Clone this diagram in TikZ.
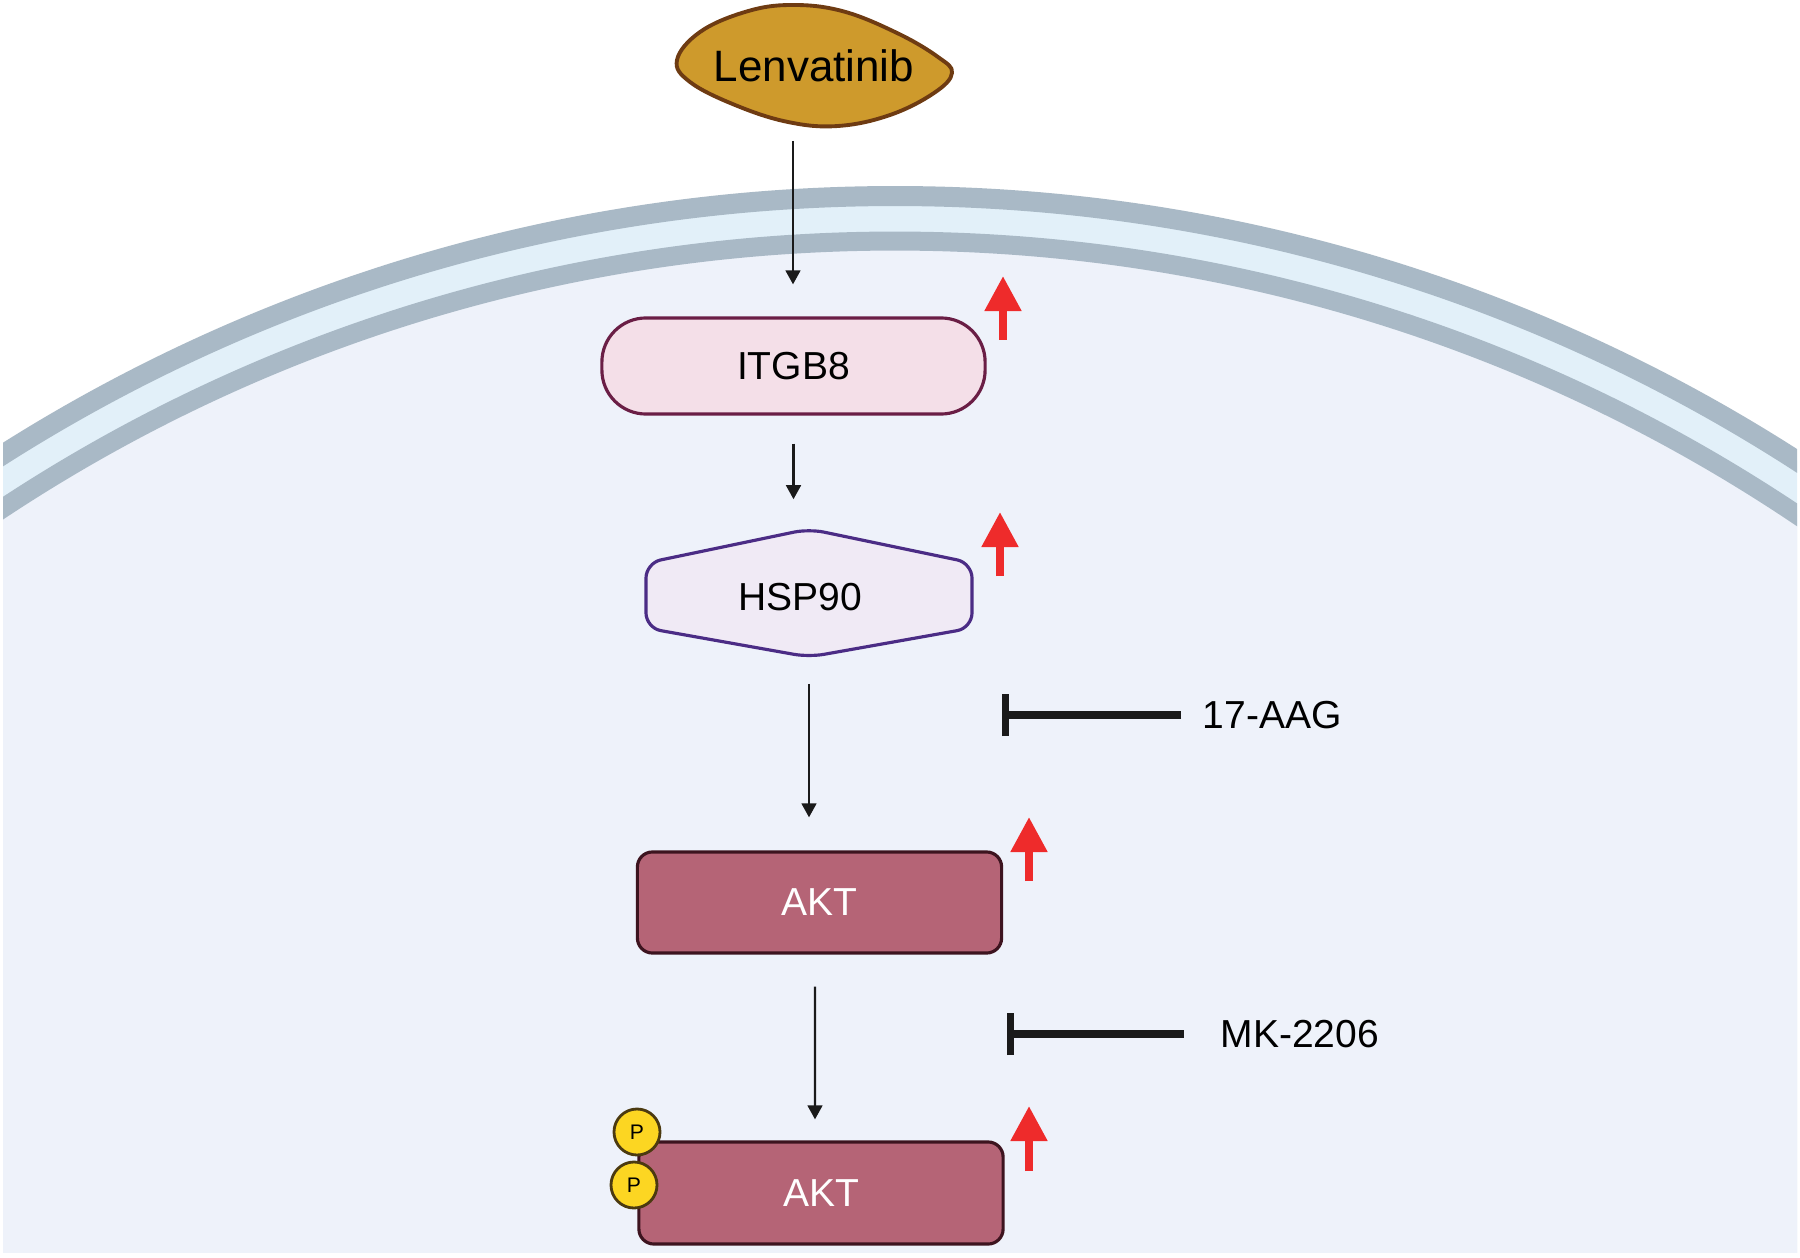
\documentclass[tikz,border=0pt]{standalone}
\usepackage{fontspec}
\setmainfont{Liberation Sans}
\usetikzlibrary{arrows.meta}
\definecolor{memgray}{HTML}{A9B9C6}
\definecolor{memblue}{HTML}{E2F0F9}
\definecolor{cellin}{HTML}{EEF2FA}
\definecolor{itgbfill}{HTML}{F4DFE8}
\definecolor{itgbline}{HTML}{6A1E45}
\definecolor{hspfill}{HTML}{F0EAF5}
\definecolor{hspline}{HTML}{4B2C85}
\definecolor{aktfill}{HTML}{B56476}
\definecolor{aktline}{HTML}{3D141F}
\definecolor{pfill}{HTML}{FCD622}
\definecolor{pline}{HTML}{4B3A10}
\definecolor{lenfill}{HTML}{CE9A2C}
\definecolor{lenline}{HTML}{6E3B12}
\definecolor{upred}{HTML}{EE2B2B}
\definecolor{ink}{HTML}{1A1A1A}
\tikzset{
  lbl/.style={font=\fontsize{11.1}{13}\selectfont, text=black, inner sep=0pt},
  arr/.style={draw=ink, line width=0.7pt, -{Triangle[length=4pt,width=4.2pt]}},
  inh/.style={draw=ink, line width=2.1pt, -{Bar[width=0.42cm]}},
  redup/.style={draw=upred, line width=0.08cm, -{Triangle[length=0.35cm,width=0.35cm]}},
  aktbox/.style={draw=aktline, line width=0.9pt, fill=aktfill, rounded corners=0.15cm,
     minimum width=3.64cm, minimum height=1.01cm, text=white, font=\fontsize{11.1}{13}\selectfont},
  pcirc/.style={circle, draw=pline, line width=0.8pt, fill=pfill, minimum size=0.46cm, inner sep=0pt,
     font=\fontsize{6}{7}\selectfont}
}
\begin{document}
\begin{tikzpicture}[x=0.01cm, y=-0.01cm]
\useasboundingbox (0,0) rectangle (1800,1258);
\fill[white] (0,0) rectangle (1800,1258);
% cell membrane
\begin{scope}
  \clip (3,0) rectangle (1797,1252);
  \fill[memblue] (895,1863) circle[radius=16.66cm];
  \fill[cellin] (895,1863) circle[radius=16.21cm];
  \draw[memgray, line width=0.2cm] (895,1863) circle[radius=16.66cm];
  \draw[memgray, line width=0.19cm] (895,1863) circle[radius=16.21cm];
\end{scope}
% Lenvatinib blob
\draw[draw=lenline, line width=1.1pt, fill=lenfill]
  plot[smooth cycle, tension=0.65] coordinates {(677,60) (700,32) (745,12) (790,5) (842,11) (897,33) (938,57) (952,73) (934,93) (890,115) (838,126) (788,122) (735,105) (690,82)};
\node[inner sep=0pt, font=\fontsize{12.5}{14}\selectfont] (lenv) at (814,66) {Lenvatinib};
% ITGB8
\node[draw=itgbline, line width=0.9pt, fill=itgbfill, rounded corners=0.44cm,
  minimum width=3.83cm, minimum height=0.96cm, font=\fontsize{11.1}{13}\selectfont] (itgb) at (793.5,366) {ITGB8};
% HSP90 hexagon
\draw[draw=hspline, line width=0.9pt, fill=hspfill, rounded corners=0.15cm]
  (646,563) -- (809,529) -- (972,563) -- (972,628) -- (809,657) -- (646,628) -- cycle;
\node[minimum width=3.26cm, minimum height=1.28cm, inner sep=0pt] (hspshape) at (809,593) {};
\node[lbl] (hsp) at (800,597) {HSP90};
% AKT boxes
\node[aktbox] (akt1) at (819.5,902.5) {AKT};
\node[aktbox, minimum height=1.02cm] (akt2) at (821,1193) {AKT};
\node[pcirc] (p1) at (637,1132) {P};
\node[pcirc] (p2) at (634,1185) {P};
% connectors
\coordinate (lenvout) at (793,141);
\draw[arr, shorten >=0.32cm] (lenvout) -- (lenvout |- itgb.north);
\draw[arr, shorten <=0.28cm, shorten >=0.29cm] (itgb.south) -- (itgb.south |- hspshape.north);
\draw[arr, shorten <=0.26cm, shorten >=0.33cm] (hspshape.south) -- (hspshape.south |- akt1.north);
\draw[arr, shorten <=0.32cm, shorten >=0.21cm] ([xshift=-0.045cm]akt1.south) -- ([xshift=-0.06cm]akt2.north);
% inhibitors
\node[lbl, anchor=west] (aag) at (1202,715) {17-AAG};
\coordinate (aagbar) at (1002,715);
\draw[inh, shorten <=0.21cm] (aag.west) -- (aagbar);
\node[lbl, anchor=west] (mk) at (1220,1034) {MK-2206};
\coordinate (mkbar) at (1007,1034);
\draw[inh, shorten <=0.36cm] (mk.west) -- (mkbar);
% red up arrows
\draw[redup] (1003,340) -- (1003,276);
\draw[redup] (1000,576) -- (1000,512);
\draw[redup] (1029,881) -- (1029,817);
\draw[redup] (1029,1171) -- (1029,1106);
\end{tikzpicture}
\end{document}
